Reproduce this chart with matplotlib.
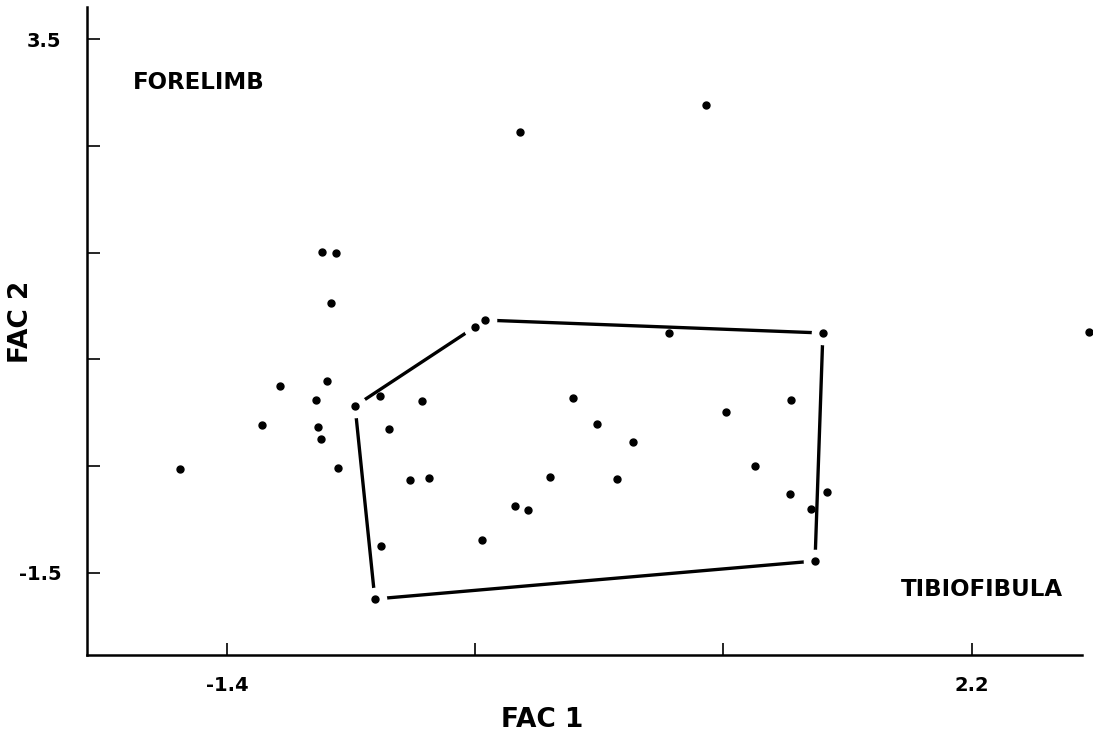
import matplotlib
matplotlib.use("Agg")
import matplotlib.pyplot as plt

# factor scores
fac1 = [-1.629, -1.232, -1.145, -0.971, -0.961, -0.947, -0.918, -0.865,
        -0.942, -0.874, -0.898, -0.782, -0.661, -0.618, -0.458, -0.516,
        -0.424, -0.657, -0.686, -0.202, -0.154, -0.008, 0.054, 0.161,
        -0.168, 0.272, 0.388, 0.562, 0.485, 0.736, 1.012, 1.152,
        1.326, 1.322, 1.423, 1.501, 1.481, 1.443, 2.768, 0.016, 0.915]
fac2 = [-0.528, -0.116, 0.249, 0.118, -0.135, -0.247, 0.296, -0.519,
        1.505, 1.495, 1.027, 0.062, 0.155, -0.154, 0.109, -0.632,
        -0.613, -1.250, -1.746, 0.802, 0.867, -0.875, -0.913, -0.603,
        -1.194, 0.137, -0.107, -0.276, -0.622, 0.746, 0.006, -0.500,
        0.118, -0.763, -0.903, -0.744, 0.746, -1.390, 0.755, 2.629, 2.882]

# tibiofibula outline (indices into the arrays above)
hull = [11, 19, 20, 36, 37, 18, 11]

xticks = [-1.4, -0.2, 1.0, 2.2]
xticklabels = ["-1.4", "", "", "2.2"]
yticks = [3.5, 2.5, 1.5, 0.5, -0.5, -1.5]
yticklabels = ["3.5", "", "", "", "", "-1.5"]

plt.rcParams["font.family"] = ["DejaVu Sans"]
plt.rcParams["axes.unicode_minus"] = False

fig = plt.figure(figsize=(10.93, 7.35), dpi=100)
ax = fig.add_axes([0.0793, 0.1088, 0.9104, 0.8812])

hx = [fac1[i] for i in hull]
hy = [fac2[i] for i in hull]
ax.plot(hx, hy, color="black", lw=2.4, solid_capstyle="butt", zorder=2)
# white halo leaves a small gap where the outline meets its points
ax.plot(hx[:-1], hy[:-1], "o", color="white", markersize=16, zorder=3)
ax.plot(fac1, fac2, "o", color="black", markersize=5, zorder=4, clip_on=False)

ax.set_xlim(-2.08, 2.733)
ax.set_ylim(-2.271, 3.797)

ax.set_xticks(xticks)
ax.set_xticklabels(xticklabels)
ax.set_yticks(yticks)
ax.set_yticklabels(yticklabels)
ax.tick_params(direction="in", length=9, width=1.2, labelsize=14, pad=0)
ax.tick_params(axis="x", pad=15)
ax.tick_params(axis="y", pad=18)
for lab in ax.get_xticklabels() + ax.get_yticklabels():
    lab.set_fontweight("bold")

for side in ["top", "right"]:
    ax.spines[side].set_visible(False)
ax.spines["left"].set_linewidth(1.8)
ax.spines["bottom"].set_linewidth(1.8)

ax.text(-1.856, 3.097, "FORELIMB", fontsize=16.5, fontweight="bold",
        ha="left", va="center")
ax.text(2.642, -1.653, "TIBIOFIBULA", fontsize=16.5, fontweight="bold",
        ha="right", va="center")

fig.text(0.496, 0.0204, "FAC 1", fontsize=19, fontweight="bold",
         ha="center", va="center")
fig.text(0.0192, 0.562, "FAC 2", fontsize=19, fontweight="bold",
         ha="center", va="center", rotation=90)

fig.savefig("out.png", dpi=100)
